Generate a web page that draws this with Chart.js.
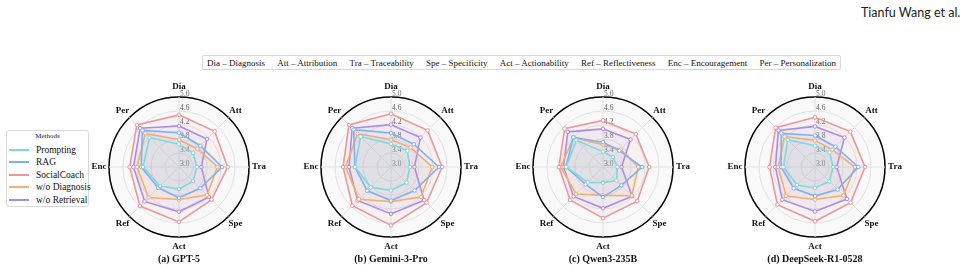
<!DOCTYPE html>
<html>
<head>
<meta charset="utf-8">
<script src="https://cdn.jsdelivr.net/npm/chart.js@4.4.0/dist/chart.umd.min.js"></script>
<style>
body{margin:0;width:967px;height:273px;background:#fff;position:relative;overflow:hidden;font-family:"Liberation Serif",serif;}
#author{position:absolute;left:861px;top:5px;font-family:Lato,sans-serif;font-size:12.5px;color:#222;}
#abbr{position:absolute;left:202px;top:55px;width:639px;height:15px;border:1px solid #d8d8d8;border-radius:2px;box-sizing:border-box;display:flex;justify-content:space-between;align-items:center;padding:0 4px;font-size:9px;color:#111;white-space:nowrap;}
#methods{position:absolute;left:6px;top:130px;width:83px;height:77px;border:1px solid #d8d8d8;border-radius:3px;box-sizing:border-box;}
#methods .ttl{position:absolute;left:0;width:100%;top:1px;text-align:center;font-size:7px;color:#222;}
#methods .it{position:absolute;left:2px;height:12px;font-size:9.5px;color:#111;display:flex;align-items:center;white-space:nowrap;}
#methods .sw{display:inline-block;width:20px;height:2px;margin-right:7px;}
canvas{position:absolute;}
.sub{position:absolute;top:253px;width:200px;text-align:center;font-weight:bold;font-size:10px;color:#111;}
</style>
</head>
<body>
<div id="author">Tianfu Wang et al.</div>
<div id="abbr"></div>
<div id="methods"><div class="ttl">Methods</div></div>
<script>
// axes go clockwise from the top
const axes = ['Dia', 'Att', 'Tra', 'Spe', 'Act', 'Ref', 'Enc', 'Per']
const axisNames = ['Diagnosis', 'Attribution', 'Traceability', 'Specificity', 'Actionability', 'Reflectiveness', 'Encouragement', 'Personalization']
const methods = ['Prompting', 'RAG', 'SocialCoach', 'w/o Diagnosis', 'w/o Retrieval']
const models = ['(a) GPT-5', '(b) Gemini-3-Pro', '(c) Qwen3-235B', '(d) DeepSeek-R1-0528']
const rTicks = [3.0, 3.4, 3.8, 4.2, 4.6, 5.0]

// one row per method, same order as methods
const gpt5 = [
    [3.65, 3.57, 3.51, 3.57, 3.63, 3.77, 4.03, 4.19],
    [3.98, 3.86, 4.23, 3.86, 3.88, 3.84, 4.08, 4.48],
    [4.49, 4.44, 4.39, 4.32, 4.57, 4.58, 4.41, 4.70],
    [3.78, 3.74, 4.10, 4.13, 3.93, 4.23, 4.20, 4.36],
    [4.17, 4.13, 3.64, 4.21, 4.28, 4.39, 4.30, 4.57]
]
const gemini3 = [
    [3.66, 3.66, 3.54, 3.63, 3.67, 3.82, 4.03, 4.23],
    [3.97, 3.92, 4.37, 3.95, 3.96, 3.96, 4.03, 4.51],
    [4.52, 4.48, 4.46, 4.44, 4.67, 4.56, 4.37, 4.70],
    [3.78, 3.79, 4.18, 4.21, 3.99, 4.30, 4.30, 4.35],
    [4.21, 4.19, 3.67, 4.34, 4.34, 4.35, 4.20, 4.57]
]
const qwen3 = [
    [3.44, 3.40, 3.41, 3.55, 3.45, 3.62, 4.05, 4.08],
    [3.71, 3.66, 4.12, 3.74, 3.86, 3.70, 4.06, 4.20],
    [4.33, 4.33, 4.32, 4.38, 4.46, 4.33, 4.26, 4.55],
    [3.64, 3.71, 4.01, 4.16, 3.81, 4.09, 4.21, 4.19],
    [4.09, 4.11, 3.53, 4.18, 4.18, 4.19, 4.13, 4.42]
]
const deepseek = [
    [3.61, 3.59, 3.52, 3.58, 3.60, 3.73, 3.90, 4.10],
    [3.90, 3.82, 4.24, 3.91, 3.83, 3.86, 3.97, 4.36],
    [4.42, 4.43, 4.43, 4.44, 4.55, 4.52, 4.30, 4.59],
    [3.76, 3.70, 4.14, 4.15, 3.93, 4.17, 4.05, 4.23],
    [4.16, 4.19, 3.62, 4.29, 4.27, 4.32, 4.13, 4.48]
]

const colors = ['#7fd8dc', '#80b1ef', '#eb979d', '#f4b26c', '#a68cf0']
const centers = [179, 391, 603, 815]
const cy = 167

// abbreviation strip
let abbr = document.getElementById('abbr')
for (let i = 0; i < axes.length; i++) {
    let s = document.createElement('span')
    s.textContent = axes[i] + ' \u2013 ' + axisNames[i]
    abbr.appendChild(s)
}

// methods legend
let leg = document.getElementById('methods')
methods.forEach(function(m, i) {
    let d = document.createElement('div')
    d.className = 'it'
    d.style.top = (13 + i * 12.4) + 'px'
    d.innerHTML = '<span class="sw" style="background:' + colors[i] + '"></span>' + m
    leg.appendChild(d)
})

const polarDeco = {
    id: 'polarDeco',
    beforeDraw(chart) {
        let s = chart.scales.r
        let ctx = chart.ctx
        ctx.save()
        ctx.beginPath()
        ctx.arc(s.xCenter, s.yCenter, s.drawingArea, 0, Math.PI * 2)
        ctx.fillStyle = '#f9f9f9'
        ctx.fill()
        ctx.restore()
    },
    beforeDatasetsDraw(chart) {
        let s = chart.scales.r
        let ctx = chart.ctx
        ctx.save()
        ctx.font = '7.5px "Liberation Serif"'
        ctx.fillStyle = '#666'
        ctx.textAlign = 'left'
        ctx.textBaseline = 'middle'
        for (let t of rTicks) {
            let d = s.getDistanceFromCenterForValue(t)
            ctx.fillText(t.toFixed(1), s.xCenter + 1, s.yCenter - d - 3)
        }
        ctx.restore()
    },
    afterDraw(chart) {
        let s = chart.scales.r
        let ctx = chart.ctx
        ctx.save()
        ctx.font = 'bold 9px "Liberation Serif"'
        ctx.fillStyle = '#111'
        ctx.textAlign = 'center'
        ctx.textBaseline = 'middle'
        for (let i = 0; i < axes.length; i++) {
            let p = s.getPointPosition(i, s.drawingArea + 10)
            ctx.fillText(axes[i], p.x, p.y)
        }
        ctx.restore()
    }
}

function drawRadar(idx, values) {
    let cv = document.createElement('canvas')
    cv.width = 200
    cv.height = 200
    cv.style.left = (centers[idx] - 100) + 'px'
    cv.style.top = (cy - 100) + 'px'
    document.body.appendChild(cv)

    let sub = document.createElement('div')
    sub.className = 'sub'
    sub.style.left = (centers[idx] - 100) + 'px'
    sub.textContent = models[idx]
    document.body.appendChild(sub)

    let ds = methods.map(function(m, i) {
        return {
            label: m,
            data: values[i],
            borderColor: colors[i],
            backgroundColor: colors[i] + '14',
            borderWidth: 1.6,
            fill: true,
            pointRadius: 1.8,
            pointBorderWidth: 1,
            pointBackgroundColor: '#fff',
            pointBorderColor: colors[i]
        }
    })

    new Chart(cv, {
        type: 'radar',
        data: { labels: axes, datasets: ds },
        options: {
            responsive: false,
            animation: false,
            devicePixelRatio: 1,
            layout: { padding: 30 },
            plugins: { legend: { display: false }, tooltip: { enabled: false } },
            elements: { line: { tension: 0 } },
            scales: {
                r: {
                    min: 3,
                    max: 5,
                    ticks: { display: false, stepSize: 0.4 },
                    pointLabels: { display: false },
                    angleLines: { color: '#e2e2e2', lineWidth: 1 },
                    grid: {
                        circular: true,
                        color: (c) => (c.tick && c.tick.value > 4.99) ? '#000' : '#e2e2e2',
                        lineWidth: (c) => (c.tick && c.tick.value > 4.99) ? 1.5 : 1
                    }
                }
            }
        },
        plugins: [polarDeco]
    })
}

drawRadar(0, gpt5)
drawRadar(1, gemini3)
drawRadar(2, qwen3)
drawRadar(3, deepseek)
</script>
</body>
</html>
